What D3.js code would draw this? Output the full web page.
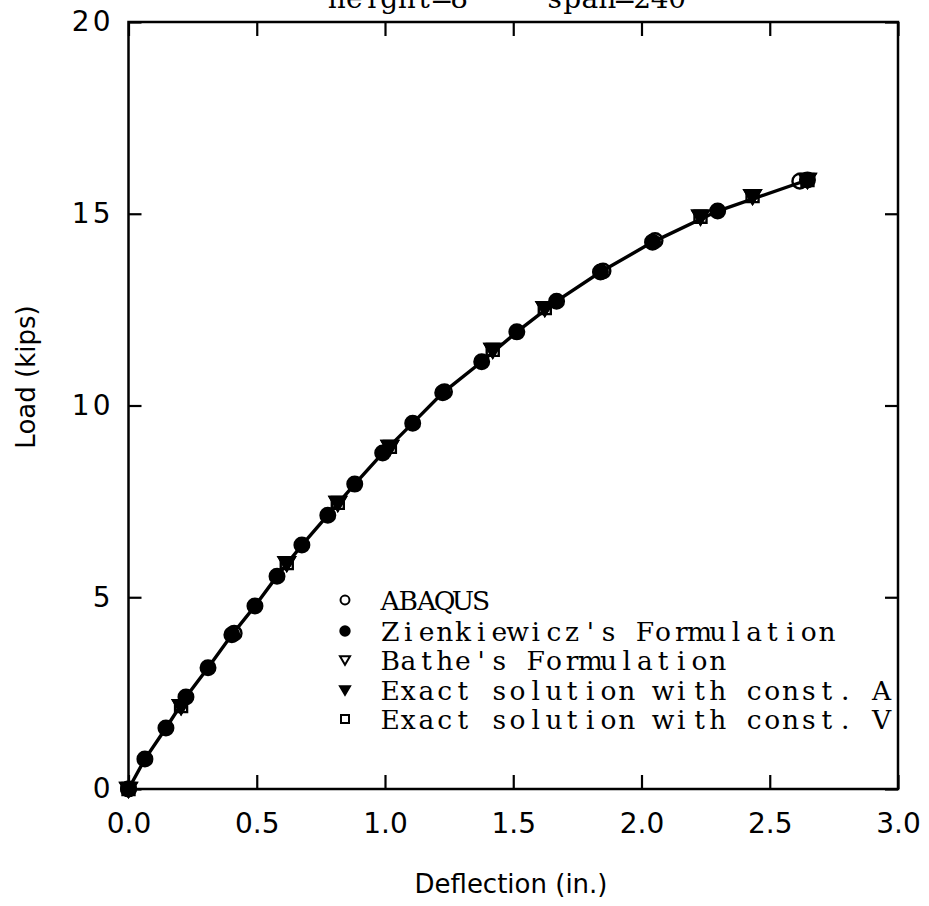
<!DOCTYPE html>
<html><head><meta charset="utf-8">
<script src="https://cdn.jsdelivr.net/npm/d3@7"></script>
<style>body{margin:0;background:#fff}svg{display:block}</style>
</head><body>
<svg id="c" width="929" height="906"></svg>
<script>
// ---- data ----
const xTicks = [0, 0.5, 1.0, 1.5, 2.0, 2.5, 3.0];
const yTicks = [0, 5, 10, 15, 20];
const titleParts = ["height=8", "span=240"];
const legendLabels = ["ABAQUS", "Zienkiewicz's Formulation", "Bathe's Formulation",
  "Exact solution with const. A", "Exact solution with const. V"];

const zienX = [0, 0.064, 0.146, 0.224, 0.31, 0.403, 0.493, 0.579, 0.676, 0.777, 0.882, 0.991, 1.108, 1.225, 1.377, 1.514, 1.669, 1.84, 2.043, 2.297, 2.647];
const zienY = [0, 0.78, 1.59, 2.4, 3.16, 4.02, 4.77, 5.55, 6.36, 7.14, 7.95, 8.76, 9.54, 10.33, 11.14, 11.92, 12.72, 13.48, 14.26, 15.07, 15.88];

const abaqusX = [0, 0.412, 1.232, 1.85, 2.053, 2.617];
const abaqusY = [0, 4.06, 10.36, 13.51, 14.3, 15.85];

const batheX = [0, 0.205, 0.617, 0.816, 1.019, 1.42, 1.623, 2.23, 2.433, 2.647];
const batheY = [0, 2.16, 5.89, 7.46, 8.92, 11.45, 12.54, 14.92, 15.46, 15.88];

const exactAX = [0, 0.205, 0.617, 0.816, 1.019, 1.42, 1.623, 2.23, 2.433, 2.647];
const exactAY = [0, 2.16, 5.89, 7.46, 8.92, 11.45, 12.54, 14.92, 15.46, 15.88];

const exactVX = [0, 0.205, 0.617, 0.816, 1.019, 1.42, 1.623, 2.23, 2.433, 2.647];
const exactVY = [0, 2.16, 5.89, 7.46, 8.92, 11.45, 12.54, 14.92, 15.46, 15.88];

// ---- chart ----
const svg = d3.select("#c");
const L = 128.5, R = 898, T = 22, B = 789;
const x = d3.scaleLinear().domain([0, 3]).range([L, R]);
const y = d3.scaleLinear().domain([0, 20]).range([B, T]);
const sans = "'DejaVu Sans', sans-serif";
const serif = "'DejaVu Serif', serif";

// monospaced-style text using a serif face: each glyph centred in a fixed cell
function monoText(str, x0, yb, cell, size) {
  const t = svg.append("text").attr("y", yb).attr("font-family", serif).attr("font-size", size);
  const probe = svg.append("text").attr("font-family", serif).attr("font-size", size).attr("x", -500).attr("y", -500);
  const xs = [];
  for (let i = 0; i < str.length; i++) {
    const ch = str[i] === " " ? "n" : str[i];
    probe.text(ch);
    const w = probe.node().getComputedTextLength();
    xs.push((x0 + i * cell + (cell - w) / 2).toFixed(1));
  }
  probe.remove();
  t.attr("x", xs.join(" ")).text(str);
  return t;
}

// frame
svg.append("rect").attr("x", L).attr("y", T).attr("width", R - L).attr("height", B - T)
  .attr("fill", "none").attr("stroke", "#000").attr("stroke-width", 2.5);

// axes
const ax = svg.append("g").attr("transform", `translate(0,${B})`)
  .call(d3.axisBottom(x).tickValues(xTicks).tickSize(-14).tickPadding(24).tickFormat(d3.format(".1f")));
const axTop = svg.append("g").attr("transform", `translate(0,${T})`)
  .call(d3.axisTop(x).tickValues(xTicks).tickSize(-14).tickFormat(""));
const ay = svg.append("g").attr("transform", `translate(${L},0)`)
  .call(d3.axisLeft(y).tickValues(yTicks).tickSize(-13).tickPadding(15).tickFormat(d3.format("d")));
const ayR = svg.append("g").attr("transform", `translate(${R},0)`)
  .call(d3.axisRight(y).tickValues(yTicks).tickSize(-13).tickFormat(""));
[ax, axTop, ay, ayR].forEach(g => {
  g.select(".domain").remove();
  g.selectAll(".tick line").attr("stroke", "#000").attr("stroke-width", 2.2);
  g.selectAll("text").attr("font-family", sans).attr("font-size", 28).attr("fill", "#000");
});
ay.selectAll("text").attr("letter-spacing", 3);

// axis titles
svg.append("text").attr("x", 511).attr("y", 893).attr("text-anchor", "middle")
  .attr("font-family", sans).attr("font-size", 26).text("Deflection (in.)");
svg.append("text").attr("transform", "translate(35,377) rotate(-90)").attr("text-anchor", "middle")
  .attr("font-family", sans).attr("font-size", 26).text("Load (kips)");

// title (cut off at the top edge, as in the reference)
monoText(titleParts[0], 328, 8, 17.5, 28);
monoText(titleParts[1], 546, 8, 17.5, 28);

// curve
const zien = zienX.map((v, i) => [v, zienY[i]]);
svg.append("path").datum(zien)
  .attr("d", d3.line().x(d => x(d[0])).y(d => y(d[1])))
  .attr("fill", "none").attr("stroke", "#000").attr("stroke-width", 3.4);

const pts = (xs, ys) => xs.map((v, i) => [v, ys[i]]);
const sym = (type, size) => d3.symbol().type(type).size(size)();
const triDown = r => `M${-r},${-r * 0.75}L${r},${-r * 0.75}L0,${r * 0.95}Z`;

function markerPath(kind) {
  if (kind === "abaqus" || kind === "zien") return sym(d3.symbolCircle, Math.PI * 7.3 * 7.3);
  if (kind === "bathe" || kind === "exactA") return triDown(8);
  return sym(d3.symbolSquare, 12 * 12);
}
function drawMarkers(data, kind) {
  svg.append("g").selectAll("path").data(data).enter().append("path")
    .attr("transform", d => `translate(${x(d[0])},${y(d[1])})`)
    .attr("d", markerPath(kind))
    .attr("fill", kind === "zien" || kind === "exactA" ? "#000" : "none")
    .attr("stroke", "#000").attr("stroke-width", 2.4);
}

drawMarkers(pts(exactVX, exactVY), "exactV");
drawMarkers(pts(batheX, batheY), "bathe");
drawMarkers(pts(exactAX, exactAY), "exactA");
drawMarkers(pts(zienX, zienY), "zien");
drawMarkers(pts(abaqusX, abaqusY), "abaqus");

// legend
const kinds = ["abaqus", "zien", "bathe", "exactA", "exactV"];
const legY = [600, 631, 660, 690, 719];
kinds.forEach((k, i) => {
  const fill = (k === "zien" || k === "exactA") ? "#000" : "none";
  let d;
  if (k === "abaqus") d = sym(d3.symbolCircle, Math.PI * 20);
  else if (k === "zien") d = sym(d3.symbolCircle, Math.PI * 22);
  else if (k === "bathe" || k === "exactA") d = triDown(5);
  else d = sym(d3.symbolSquare, 64);
  svg.append("path").attr("transform", `translate(345,${legY[i]})`).attr("d", d)
    .attr("fill", fill).attr("stroke", "#000").attr("stroke-width", 2);
  monoText(legendLabels[i], 381, legY[i] + 10, 18.2, 26.5);
});
</script>
</body></html>
